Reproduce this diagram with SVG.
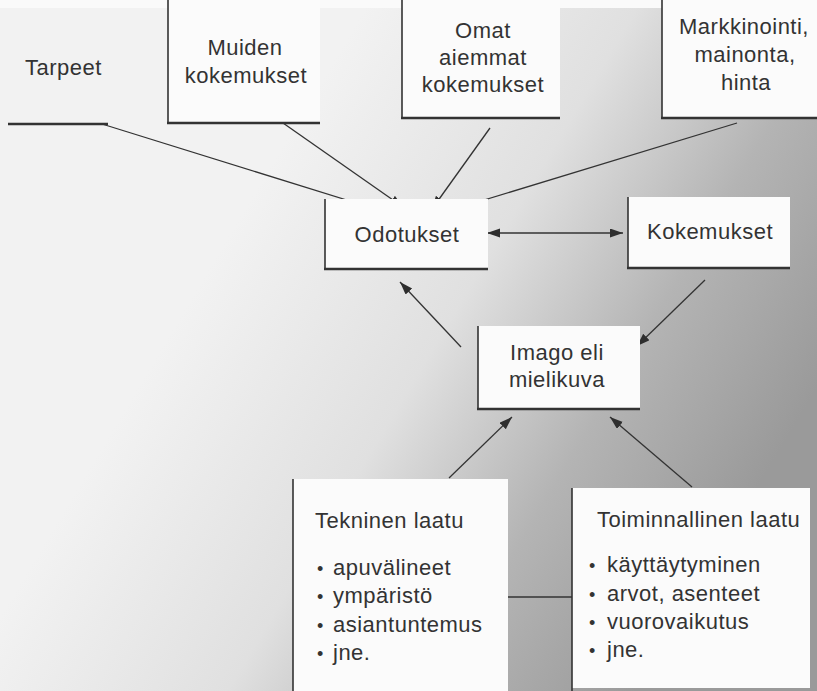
<svg xmlns="http://www.w3.org/2000/svg" width="817" height="691" viewBox="0 0 817 691">
  <defs>
    <linearGradient id="bg" gradientUnits="userSpaceOnUse" x1="250" y1="200" x2="750" y2="500">
      <stop offset="0" stop-color="#f2f2f2"/>
      <stop offset="0.4" stop-color="#e0e0e0"/>
      <stop offset="0.7" stop-color="#b4b4b4"/>
      <stop offset="1" stop-color="#9a9a9a"/>
    </linearGradient>
    <marker id="arr" markerUnits="userSpaceOnUse" markerWidth="14" markerHeight="10" refX="13" refY="4.5" orient="auto-start-reverse">
      <path d="M0,0 L13,4.5 L0,9 z" fill="#2e2e2e"/>
    </marker>
    <style>
      text { font-family: "Liberation Sans", Arial, sans-serif; font-size: 22px; fill: #333; letter-spacing: 0.5px; }
      .c { text-anchor: middle; }
      .box { fill: #fbfbfb; stroke: none; }
      .brd { fill: none; stroke: #333; stroke-width: 1.6; }
      .bot { fill: none; stroke: #333; stroke-width: 2.4; }
      .con { fill: none; stroke: #333; stroke-width: 1.3; }
      .arw { marker-end: url(#arr); }
      .b { font-size: 18px; }
    </style>
  </defs>

  <rect x="0" y="0" width="817" height="691" fill="url(#bg)"/>
  <rect x="0" y="0" width="817" height="8" fill="#fafafa"/>

  <g id="connectors">
    <line class="con arw" x1="102" y1="124" x2="382" y2="211"/>
    <line class="con arw" x1="283" y1="123" x2="403" y2="207"/>
    <line class="con arw" x1="490" y1="128" x2="432" y2="209"/>
    <line class="con arw" x1="737" y1="123" x2="448" y2="211"/>
    <line class="con arw" x1="487" y1="233" x2="623" y2="233" marker-start="url(#arr)"/>
    <line class="con arw" x1="705" y1="280" x2="637" y2="346"/>
    <line class="con arw" x1="461" y1="347" x2="400" y2="282"/>
    <line class="con arw" x1="449" y1="478" x2="512" y2="417"/>
    <line class="con arw" x1="692" y1="487" x2="610" y2="417"/>
    <line class="con" x1="508" y1="597" x2="572" y2="597" stroke="#555"/>
  </g>

  <g id="tarpeet">
    <line class="bot" x1="8" y1="124" x2="108" y2="124"/>
    <text x="25" y="75">Tarpeet</text>
  </g>

  <g id="muiden">
    <rect class="box" x="168" y="0" width="152" height="123"/>
    <path class="brd" d="M168,0 V123"/>
    <path class="bot" d="M167,123 H320"/>
    <text class="c" x="245" y="55">Muiden</text>
    <text class="c" x="246" y="83">kokemukset</text>
  </g>

  <g id="omat">
    <rect class="box" x="402" y="0" width="158" height="118"/>
    <path class="brd" d="M402,0 V118"/>
    <path class="bot" d="M401,118 H560"/>
    <text class="c" x="483" y="38">Omat</text>
    <text class="c" x="483" y="65">aiemmat</text>
    <text class="c" x="483" y="92">kokemukset</text>
  </g>

  <g id="markkinointi">
    <rect class="box" x="662" y="0" width="155" height="118"/>
    <path class="brd" d="M662,0 V118"/>
    <path class="bot" d="M661,118 H817"/>
    <text class="c" x="744" y="34">Markkinointi,</text>
    <text class="c" x="745" y="62">mainonta,</text>
    <text class="c" x="746" y="90">hinta</text>
  </g>

  <g id="odotukset">
    <rect class="box" x="325" y="199" width="163" height="70"/>
    <path class="brd" d="M325,199 V269"/>
    <path class="bot" d="M324,269 H488"/>
    <text class="c" x="407" y="242">Odotukset</text>
  </g>

  <g id="kokemukset">
    <rect class="box" x="628" y="197" width="162" height="71"/>
    <path class="brd" d="M628,197 V268"/>
    <path class="bot" d="M627,268 H790"/>
    <text class="c" x="710" y="239">Kokemukset</text>
  </g>

  <g id="imago">
    <rect class="box" x="478" y="326" width="162" height="83"/>
    <path class="brd" d="M478,326 V409"/>
    <path class="bot" d="M477,409 H640"/>
    <text class="c" x="557" y="360">Imago eli</text>
    <text class="c" x="557" y="387">mielikuva</text>
  </g>

  <g id="tekninen">
    <rect class="box" x="293" y="479" width="215" height="212"/>
    <path class="brd" d="M293,479 V691"/>
    <text x="315" y="528">Tekninen laatu</text>
    <text x="317" y="575"><tspan class="b">•</tspan><tspan x="333">apuvälineet</tspan></text>
    <text x="317" y="603"><tspan class="b">•</tspan><tspan x="333">ympäristö</tspan></text>
    <text x="317" y="632"><tspan class="b">•</tspan><tspan x="333">asiantuntemus</tspan></text>
    <text x="317" y="660"><tspan class="b">•</tspan><tspan x="333">jne.</tspan></text>
  </g>

  <g id="toiminnallinen">
    <rect class="box" x="572" y="488" width="238" height="200"/>
    <path class="brd" d="M572,488 V691"/>
    <text x="597" y="527">Toiminnallinen laatu</text>
    <text x="589" y="572"><tspan class="b">•</tspan><tspan x="607">käyttäytyminen</tspan></text>
    <text x="589" y="601"><tspan class="b">•</tspan><tspan x="607">arvot, asenteet</tspan></text>
    <text x="589" y="629"><tspan class="b">•</tspan><tspan x="607">vuorovaikutus</tspan></text>
    <text x="589" y="657"><tspan class="b">•</tspan><tspan x="607">jne.</tspan></text>
  </g>
</svg>
